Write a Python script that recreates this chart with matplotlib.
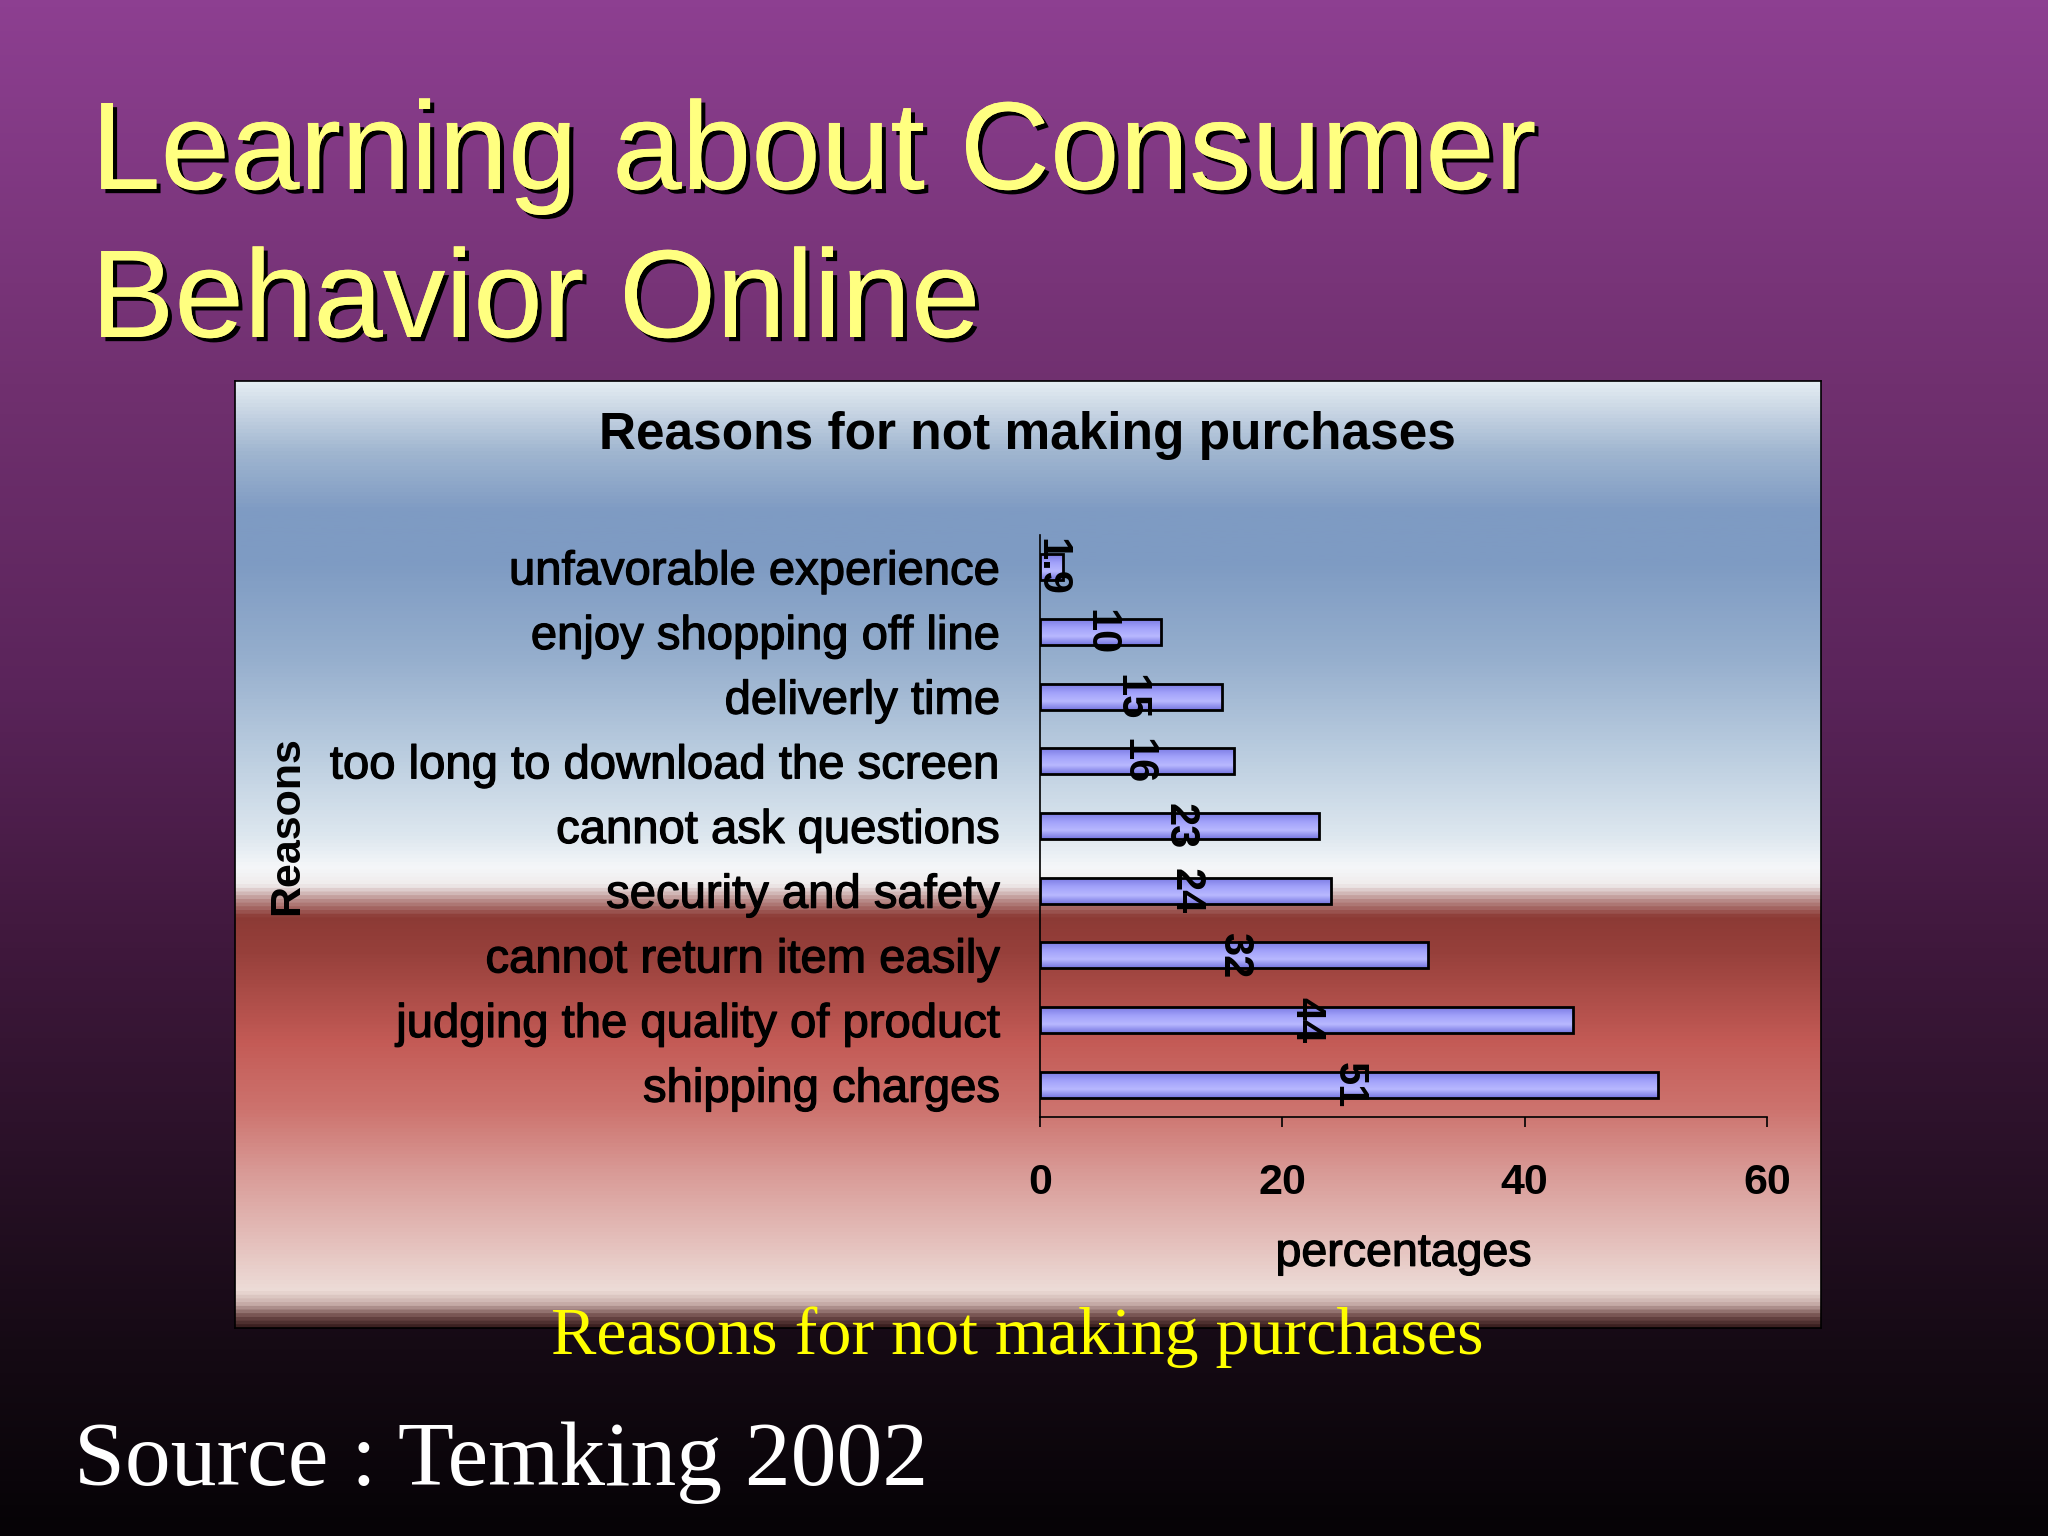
import numpy as np
import matplotlib
matplotlib.use("Agg")
import matplotlib.pyplot as plt
from matplotlib.colors import LinearSegmentedColormap
import matplotlib.patheffects as pe

# data
reasons = ['shipping charges', 'judging the quality of product', 'cannot return item easily',
           'security and safety', 'cannot ask questions', 'too long to download the screen',
           'deliverly time', 'enjoy shopping off line', 'unfavorable experience']
values = [51, 44, 32, 24, 23, 16, 15, 10, 1.9]
value_labels = ['51', '44', '32', '24', '23', '16', '15', '10', '1.9']
x_ticks = [0, 20, 40, 60]

W, H = 2048, 1536
fig = plt.figure(figsize=(W / 100, H / 100), dpi=100)


def rect(x0, y0, x1, y1):
    # pixel box (top-left origin) -> figure fraction
    return [x0 / W, 1 - y1 / H, (x1 - x0) / W, (y1 - y0) / H]


# slide background
bg_cmap = LinearSegmentedColormap.from_list('bg', [
    (0.0, '#8d3f91'), (0.25, '#70306f'), (0.45, '#5a245a'), (0.6, '#42193f'),
    (0.75, '#2a1128'), (0.88, '#150a14'), (1.0, '#060306')])
ax_bg = fig.add_axes([0, 0, 1, 1], zorder=0)
ax_bg.imshow(np.linspace(0, 1, 512).reshape(-1, 1), cmap=bg_cmap, aspect='auto',
             extent=[0, 1, 0, 1])
ax_bg.axis('off')

# chart panel background
panel_cmap = LinearSegmentedColormap.from_list('panel', [
    (0.0, '#e4edf2'), (0.025, '#cdd9e6'), (0.073, '#a0b6d0'), (0.135, '#7f9bc3'),
    (0.19, '#7e9bc3'), (0.29, '#95aecd'), (0.397, '#bccee0'), (0.48, '#dde7ef'),
    (0.514, '#f5f7f9'), (0.532, '#f0ecec'), (0.549, '#b88a88'), (0.566, '#8c3a35'),
    (0.604, '#97403b'), (0.70, '#c45b56'), (0.77, '#cd736e'), (0.838, '#d99b97'),
    (0.92, '#e6c5c1'), (0.962, '#eddcd7'), (0.976, '#c9aeaa'), (0.99, '#6e4a48'),
    (1.0, '#3b2020')])
ax_panel = fig.add_axes(rect(235, 381, 1821, 1328), zorder=1)
ax_panel.imshow(np.linspace(0, 1, 1024).reshape(-1, 1), cmap=panel_cmap, aspect='auto',
                extent=[0, 1, 0, 1])
ax_panel.set_xticks([])
ax_panel.set_yticks([])
for s in ax_panel.spines.values():
    s.set_color('black')
    s.set_linewidth(1.2)

# slightly heavier regular text, like the old chart renderer
heavy = [pe.Stroke(linewidth=0.9, foreground='black'), pe.Normal()]

# bar chart
ax = fig.add_axes(rect(1040, 535, 1767, 1117), zorder=2)
ax.patch.set_alpha(0)
y = np.arange(len(reasons))
bars = ax.barh(y, values, height=0.4, color='#9a9af6', zorder=2)
bar_cmap = LinearSegmentedColormap.from_list('bar', ['#7676e0', '#b8b8ff', '#a2a2fa', '#7c7ce4'])
grad = np.linspace(0, 1, 64).reshape(-1, 1)
for b, v, yi in zip(bars, values, y):
    im = ax.imshow(grad, cmap=bar_cmap, aspect='auto', zorder=2.5,
                   extent=[0, v, yi + 0.2, yi - 0.2])
    im.set_clip_path(b)
ax.barh(y, values, height=0.4, fill=False, edgecolor='black', linewidth=2, zorder=3)

for v, yi, lab in zip(values, y, value_labels):
    ax.text(v / 2, yi, lab, rotation=-90, ha='center', va='center', fontsize=30,
            fontweight='bold', family='Liberation Sans', color='black', zorder=4)

ax.set_xlim(0, 60)
ax.set_ylim(-0.5, 8.5)
ax.set_xticks(x_ticks)
ax.set_xticklabels([str(t) for t in x_ticks], fontsize=31, fontweight='bold',
                   family='Liberation Sans')
ax.set_yticks(y)
ax.set_yticklabels(reasons, fontsize=34, family='Liberation Sans')
for t in ax.get_yticklabels():
    t.set_path_effects(heavy)
ax.tick_params(axis='x', length=7, width=1.2, pad=26, color='black')
ax.tick_params(axis='y', length=0, pad=29)
for s in ['top', 'right']:
    ax.spines[s].set_visible(False)
for s in ['left', 'bottom']:
    ax.spines[s].set_linewidth(1.2)
    ax.spines[s].set_color('black')

ax.set_xlabel('percentages', fontsize=33.5, family='Liberation Sans', va='center',
              path_effects=heavy)
ax.xaxis.set_label_coords(0.5, -0.235)
ax.set_ylabel('Reasons', fontsize=31, fontweight='bold', family='Liberation Sans', va='center')
ax.yaxis.set_label_coords(-1.036, 0.5)

fig.text(1027 / W, 1 - 436 / H, 'Reasons for not making purchases', ha='center', va='center',
         fontsize=37, fontweight='bold', family='Liberation Sans', color='black', zorder=5)

# slide title
shadow = [pe.withSimplePatchShadow(offset=(3, -3), shadow_rgbFace='black', alpha=1.0), pe.Normal()]
fig.text(91 / W, 1 - 189 / H, 'Learning about Consumer', ha='left', va='baseline',
         fontsize=90, family='Liberation Sans', color='#ffff80', path_effects=shadow, zorder=5)
fig.text(91 / W, 1 - 337 / H, 'Behavior Online', ha='left', va='baseline',
         fontsize=90, family='Liberation Sans', color='#ffff80', path_effects=shadow, zorder=5)

fig.text(1017 / W, 1 - 1337 / H, 'Reasons for not making purchases', ha='center', va='center',
         fontsize=49, family='Liberation Serif', color='#ffff00', zorder=5)
fig.text(74 / W, 1 - 1485 / H, 'Source : Temking 2002', ha='left', va='baseline',
         fontsize=66, family='Liberation Serif', color='white', zorder=5)

fig.savefig('out.png', dpi=100)
